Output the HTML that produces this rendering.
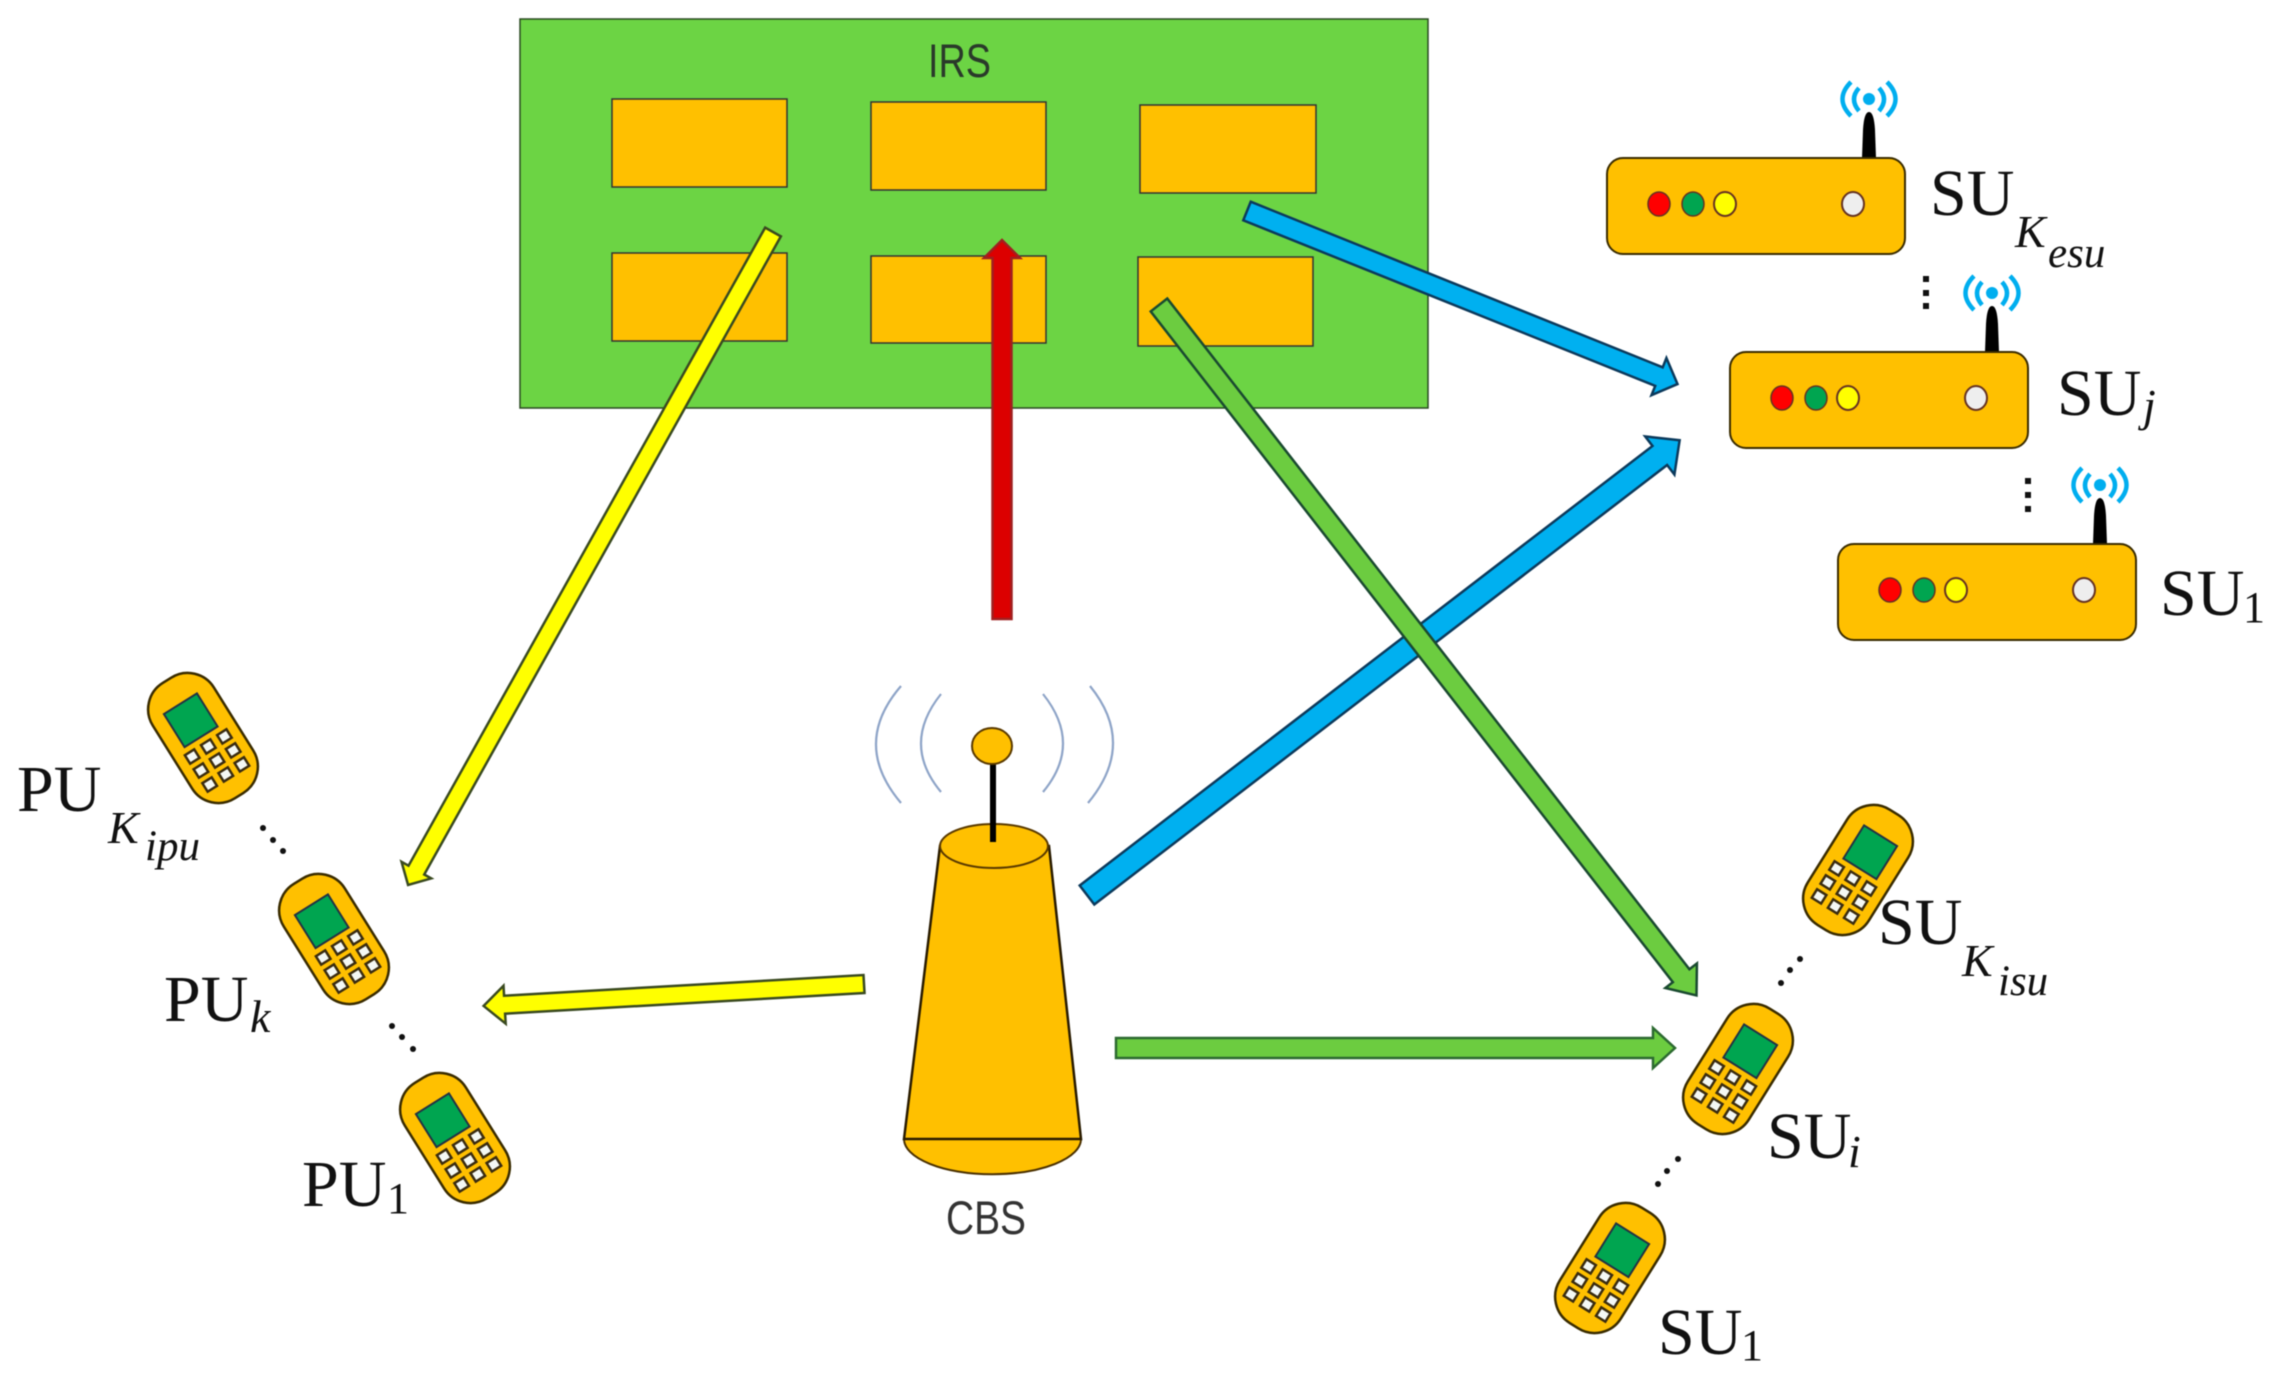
<!DOCTYPE html>
<html><head><meta charset="utf-8"><style>
html,body{margin:0;padding:0;background:#fff}
svg{display:block;filter:blur(0.6px)}
text{font-family:"Liberation Serif",serif;fill:#111}
.s{font-size:66px}
.k{font-size:46px;font-style:italic}
.i{font-size:43px;font-style:italic}
.n{font-size:44px}
.g{font-family:"Liberation Sans",sans-serif;font-size:47px;fill:#2a3a2a}
</style></head><body>
<svg width="2278" height="1394" viewBox="0 0 2278 1394" xmlns="http://www.w3.org/2000/svg">
<defs>
<g id="ph">
<rect x="-36" y="-68" width="72" height="136" rx="31" ry="31" fill="#ffc000" stroke="#3a2c00" stroke-width="2.500"/>
<rect x="-20.500" y="-41" width="39" height="39" fill="#00a550" stroke="#234" stroke-width="2"/>
<g fill="#f4f8f4" stroke="#3a2c10" stroke-width="2.500">
<rect x="-24.500" y="5" width="11" height="10"/><rect x="-5.500" y="5" width="11" height="10"/><rect x="13.500" y="5" width="11" height="10"/>
<rect x="-24.500" y="21.500" width="11" height="10"/><rect x="-5.500" y="21.500" width="11" height="10"/><rect x="13.500" y="21.500" width="11" height="10"/>
<rect x="-24.500" y="38" width="11" height="10"/><rect x="-5.500" y="38" width="11" height="10"/><rect x="13.500" y="38" width="11" height="10"/>
</g>
</g>
<g id="rt">
<path d="M255 0L256 -28Q257 -46 262 -46Q267 -46 268 -28L269 0Z" fill="#000"/>
<circle cx="262" cy="-59" r="6" fill="#00aeef"/>
<g fill="none" stroke="#00aeef" stroke-width="4.500">
<path d="M252 -70Q242 -59 252 -47"/><path d="M272 -70Q282 -59 272 -47"/>
<path d="M244 -76Q227 -59 244 -42"/><path d="M280 -76Q297 -59 280 -42"/>
</g>
<rect x="0" y="0" width="298" height="96" rx="16" fill="#ffc000" stroke="#3a2c00" stroke-width="2"/>
<ellipse cx="52" cy="46" rx="11" ry="12" fill="#f00" stroke="#632" stroke-width="1.500"/>
<ellipse cx="86" cy="46" rx="11" ry="12" fill="#00a550" stroke="#632" stroke-width="1.500"/>
<ellipse cx="118" cy="46" rx="11" ry="12" fill="#ff0" stroke="#632" stroke-width="2"/>
<ellipse cx="246" cy="46" rx="11" ry="12" fill="#eee" stroke="#632" stroke-width="2"/>
</g>
</defs>

<rect x="520" y="19" width="908" height="389" fill="#6cd444" stroke="#2a4a20" stroke-width="1.500"/>
<g fill="#ffc000" stroke="#333" stroke-width="1.500">
<rect x="612" y="99" width="175" height="88"/>
<rect x="871" y="102" width="175" height="88"/>
<rect x="1140" y="105" width="176" height="88"/>
<rect x="612" y="253" width="175" height="88"/>
<rect x="871" y="256" width="175" height="87"/>
<rect x="1138" y="257" width="175" height="89"/>
</g>
<text class="g" x="928" y="77" textLength="63" lengthAdjust="spacingAndGlyphs">IRS</text>

<!-- arrows -->
<g stroke-width="2.500">
<g transform="translate(1002,619) rotate(-90)"><polygon points="0,-9.500 361,-9.500 361,-18 379,0 361,18 361,9.500 0,9.500" fill="#dc0000" stroke="#a02020"/></g>
<g transform="translate(1247,211) rotate(21.9)"><polygon points="0,-10 444,-10 444,-20 464,0 444,20 444,10 0,10" fill="#00b0f0" stroke="#0c3a5c"/></g>
<g transform="translate(1087,895) rotate(-37.5)"><polygon points="0,-12 722,-12 722,-24 747,0 722,24 722,12 0,12" fill="#00b0f0" stroke="#0c3a5c"/></g>
<g transform="translate(1159,305) rotate(52.1)"><polygon points="0,-10.500 850,-10.500 850,-20 875,0 850,20 850,10.500 0,10.500" fill="#6ccc40" stroke="#1a4a30"/></g>
<g transform="translate(1116,1048) rotate(0)"><polygon points="0,-10 537,-10 537,-20 559,0 537,20 537,10 0,10" fill="#6ccc40" stroke="#2c6a30"/></g>
<g transform="translate(773,232) rotate(119.2)"><polygon points="0,-9 731,-9 731,-17 748,0 731,17 731,9 0,9" fill="#ffff00" stroke="#3a4a20"/></g>
<g transform="translate(864,984) rotate(176.7)"><polygon points="0,-9 360,-9 360,-19 381,0 360,19 360,9 0,9" fill="#ffff00" stroke="#3a4a20"/></g>
</g>

<!-- CBS -->
<g fill="none" stroke="#8fa5c8" stroke-width="2.200">
<path d="M901 686Q851 744 901 803"/>
<path d="M941 694Q901 744 941 792"/>
<path d="M1043 694Q1083 744 1043 792"/>
<path d="M1090 686Q1137 744 1088 803"/>
</g>
<path d="M904 1139A88 35 0 0 0 1081 1139Z" fill="#ffc000" stroke="#4a3000" stroke-width="2"/>
<polygon points="940,846 1049,846 1081,1139 904,1139" fill="#ffc000" stroke="#2a1c00" stroke-width="2.500"/>
<ellipse cx="994" cy="846" rx="54" ry="22" fill="#ffc000" stroke="#5a3a00" stroke-width="2"/>
<line x1="993" y1="760" x2="993" y2="842" stroke="#000" stroke-width="6"/>
<ellipse cx="992" cy="746" rx="20" ry="18" fill="#ffc000" stroke="#5a3a00" stroke-width="2"/>
<text class="g" x="946" y="1234" textLength="80" lengthAdjust="spacingAndGlyphs" style="fill:#333">CBS</text>

<!-- phones -->
<use href="#ph" transform="translate(203,738) rotate(-32)"/>
<use href="#ph" transform="translate(334,939) rotate(-32)"/>
<use href="#ph" transform="translate(455,1138) rotate(-32)"/>
<use href="#ph" transform="translate(1858,870) rotate(32) scale(-1,1)"/>
<use href="#ph" transform="translate(1738,1069) rotate(32) scale(-1,1)"/>
<use href="#ph" transform="translate(1610,1268) rotate(32) scale(-1,1)"/>

<!-- routers -->
<use href="#rt" transform="translate(1607,158)"/>
<use href="#rt" transform="translate(1730,352)"/>
<use href="#rt" transform="translate(1838,544)"/>

<!-- dots -->
<g fill="#111">
<circle cx="263" cy="828" r="3"/><circle cx="273" cy="840" r="3"/><circle cx="283" cy="851" r="3"/>
<circle cx="392" cy="1026" r="3"/><circle cx="402" cy="1037" r="3"/><circle cx="413" cy="1049" r="3"/>
<circle cx="1800" cy="959" r="3"/><circle cx="1790" cy="970" r="3"/><circle cx="1781" cy="983" r="3"/>
<circle cx="1678" cy="1159" r="3"/><circle cx="1667" cy="1171" r="3"/><circle cx="1658" cy="1184" r="3"/>
<rect x="1923" y="276" width="6" height="6"/><rect x="1923" y="290" width="6" height="6"/><rect x="1923" y="303" width="6" height="6"/>
<rect x="2025" y="478" width="6" height="6"/><rect x="2025" y="492" width="6" height="6"/><rect x="2025" y="506" width="6" height="6"/>
</g>

<!-- labels -->
<text class="s" x="17" y="811">PU</text><text class="k" x="108" y="843">K</text><text class="i" x="145" y="860">ipu</text>
<text class="s" x="164" y="1021">PU</text><text class="k" x="250" y="1032">k</text>
<text class="s" x="302" y="1206">PU</text><text class="n" x="387" y="1213">1</text>
<text class="s" x="1930" y="215">SU</text><text class="k" x="2015" y="247">K</text><text class="i" x="2048" y="267">esu</text>
<text class="s" x="2057" y="415">SU</text><text class="k" x="2143" y="421">j</text>
<text class="s" x="2160" y="615">SU</text><text class="n" x="2243" y="622">1</text>
<text class="s" x="1878" y="944">SU</text><text class="k" x="1962" y="976">K</text><text class="i" x="1998" y="995">isu</text>
<text class="s" x="1767" y="1158">SU</text><text class="k" x="1848" y="1167">i</text>
<text class="s" x="1658" y="1354">SU</text><text class="n" x="1741" y="1360">1</text>
</svg>
</body></html>
